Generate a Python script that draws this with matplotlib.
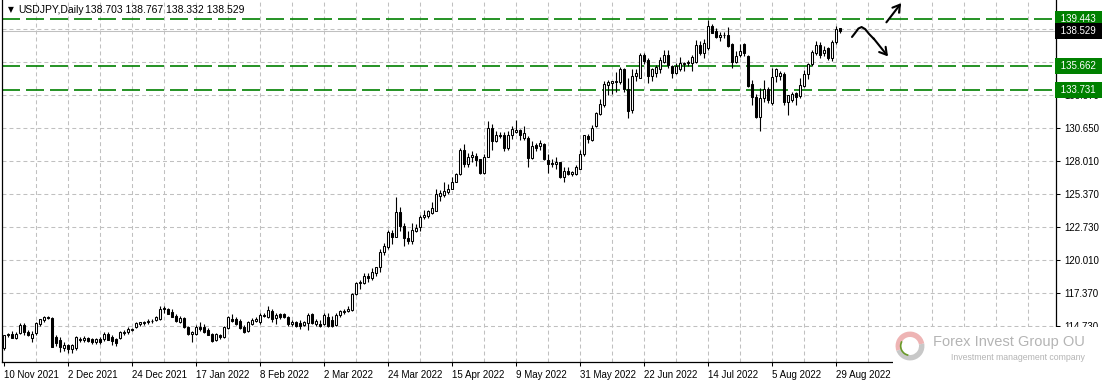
import numpy as np
import matplotlib
matplotlib.use("Agg")
import matplotlib.pyplot as plt
from matplotlib.patches import Rectangle, Wedge

plt.rcParams['font.family'] = ['Liberation Sans', 'DejaVu Sans']

# USDJPY daily bars, 10 Nov 2021 .. 30 Aug 2022 (weekdays)
opens = [
    112.90, 113.95, 114.05, 113.75, 114.15, 114.80, 114.25, 113.75, 114.15, 114.85,
    115.20, 115.40, 115.38, 113.85, 113.55, 112.95, 113.15, 112.85, 112.90, 113.55,
    113.60, 113.75, 113.65, 113.40, 113.65, 113.70, 114.05, 113.85, 113.65, 113.75,
    114.15, 114.20, 114.40, 114.65, 114.90, 114.95, 115.00, 115.15, 115.20, 115.30,
    116.20, 116.10, 115.85, 115.55, 115.05, 115.35, 114.65, 114.10, 114.10, 114.65,
    114.65, 114.40, 114.10, 113.60, 114.00, 113.80, 114.55, 115.30, 115.25, 115.15,
    114.65, 114.35, 114.90, 115.10, 115.00, 115.60, 115.40, 115.90, 115.35, 115.65,
    115.70, 115.45, 114.90, 115.05, 114.95, 114.80, 114.95, 115.65, 114.85, 114.90,
    114.85, 115.40, 115.20, 114.80, 115.60, 115.85, 115.95, 116.00, 117.30, 118.15,
    118.15, 118.75, 118.55, 118.95, 119.45, 120.70, 121.10, 122.25, 121.90, 123.90,
    122.80, 121.80, 121.55, 122.40, 122.70, 123.50, 123.60, 123.80, 124.00, 125.20,
    125.25, 125.50, 125.80, 126.35, 126.95, 128.90, 127.80, 128.30, 128.40, 128.15,
    127.05, 128.35, 130.70, 129.65, 130.10, 130.10, 129.05, 130.10, 130.35, 130.55,
    129.85, 129.85, 128.25, 129.30, 129.20, 129.40, 128.10, 127.85, 127.75, 127.90,
    126.75, 127.20, 127.00, 126.95, 127.40, 128.55, 130.00, 129.70, 130.80, 131.80,
    132.50, 134.15, 134.30, 134.35, 134.35, 135.40, 133.80, 132.10, 134.90, 134.75,
    136.60, 136.20, 134.85, 135.10, 135.40, 136.00, 136.55, 135.70, 135.10, 135.40,
    135.85, 135.90, 135.90, 136.00, 137.40, 136.75, 137.10, 138.90, 138.50, 138.00,
    138.15, 138.15, 137.45, 136.00, 136.60, 137.45, 136.50, 134.20, 133.15, 131.60,
    133.10, 133.80, 132.70, 134.90, 134.90, 135.00, 132.80, 132.90, 133.50, 133.25,
    134.05, 135.00, 135.80, 136.75, 137.40, 136.70, 137.10, 136.35, 137.60, 138.703,
]
highs = [
    114.00, 114.15, 114.30, 114.20, 114.95, 114.95, 114.40, 114.30, 115.05, 115.30,
    115.50, 115.50, 115.45, 113.95, 113.80, 113.40, 113.30, 113.25, 113.90, 113.80,
    113.90, 113.85, 113.75, 113.75, 113.80, 114.25, 114.25, 113.95, 113.75, 114.30,
    114.40, 114.60, 114.55, 115.00, 115.05, 115.15, 115.25, 115.25, 115.55, 116.35,
    116.35, 116.15, 116.05, 115.70, 115.50, 115.45, 114.75, 114.35, 114.80, 115.05,
    114.85, 114.55, 114.15, 114.15, 114.10, 114.70, 115.55, 115.65, 115.40, 115.25,
    114.80, 115.10, 115.35, 115.45, 115.75, 115.80, 116.35, 116.10, 115.75, 115.80,
    115.80, 115.55, 115.20, 115.15, 115.20, 115.10, 115.75, 115.80, 115.25, 115.20,
    115.75, 115.80, 115.50, 115.75, 116.00, 116.10, 116.30, 117.35, 118.30, 118.45,
    119.00, 118.95, 119.40, 119.50, 120.95, 121.40, 122.45, 122.45, 125.10, 124.30,
    123.00, 122.40, 123.00, 122.95, 123.70, 124.05, 124.05, 124.70, 125.75, 125.70,
    126.30, 126.20, 126.70, 127.05, 129.10, 129.40, 128.70, 128.85, 128.70, 128.20,
    128.60, 131.25, 131.00, 130.40, 130.35, 130.35, 130.45, 130.80, 131.35, 130.60,
    130.80, 130.00, 129.65, 129.45, 129.70, 129.50, 128.60, 128.20, 128.30, 127.95,
    127.50, 127.50, 127.20, 127.70, 128.90, 130.15, 130.20, 130.95, 132.00, 133.00,
    134.50, 134.55, 134.45, 135.20, 135.60, 135.55, 134.70, 135.40, 135.40, 136.70,
    136.70, 136.30, 135.50, 135.75, 136.40, 137.00, 137.00, 135.75, 135.90, 136.40,
    136.00, 136.15, 136.55, 137.75, 137.70, 137.85, 139.40, 139.10, 138.75, 138.40,
    138.40, 138.85, 137.55, 136.90, 137.45, 137.50, 136.60, 134.55, 133.40, 133.90,
    134.55, 134.00, 135.50, 135.55, 135.30, 135.20, 133.35, 133.55, 133.60, 134.70,
    135.35, 135.90, 137.00, 137.70, 137.65, 137.30, 137.25, 137.75, 138.90, 138.767,
]
lows = [
    112.75, 113.80, 113.75, 113.70, 114.05, 114.00, 113.90, 113.45, 114.00, 114.70,
    115.05, 115.25, 113.05, 113.10, 112.60, 112.70, 112.55, 112.55, 112.80, 113.40,
    113.45, 113.40, 113.25, 113.30, 113.30, 113.50, 113.55, 113.20, 113.10, 113.65,
    114.00, 114.10, 114.30, 114.55, 114.75, 114.80, 114.90, 114.95, 115.10, 115.20,
    115.80, 115.65, 115.40, 115.00, 114.95, 114.55, 114.00, 113.45, 114.00, 114.30,
    114.15, 113.95, 113.45, 113.50, 113.70, 113.75, 114.45, 115.05, 114.80, 114.45,
    114.15, 114.20, 114.80, 115.00, 114.90, 115.45, 115.35, 115.05, 114.90, 115.30,
    115.35, 114.75, 114.75, 114.60, 114.50, 114.70, 114.40, 114.85, 114.70, 114.65,
    114.80, 114.60, 114.65, 114.75, 115.40, 115.70, 115.85, 115.95, 117.20, 117.70,
    118.10, 118.25, 118.40, 118.75, 119.10, 120.40, 120.95, 121.35, 121.85, 122.40,
    121.20, 121.30, 121.30, 122.30, 122.40, 123.35, 123.45, 123.75, 123.95, 124.80,
    125.10, 125.35, 125.75, 126.30, 126.90, 127.50, 127.55, 127.90, 127.60, 126.95,
    127.00, 128.30, 128.90, 129.55, 129.90, 128.80, 128.90, 129.80, 130.25, 129.75,
    129.70, 127.50, 128.20, 128.80, 128.90, 128.10, 127.05, 127.50, 127.40, 126.65,
    126.35, 126.90, 126.80, 126.90, 127.35, 128.45, 129.50, 129.60, 130.75, 131.70,
    132.40, 133.30, 133.40, 133.60, 134.20, 133.55, 131.50, 131.90, 134.50, 134.70,
    135.80, 134.30, 134.50, 134.80, 135.10, 135.90, 135.50, 134.75, 135.00, 135.25,
    135.25, 135.65, 135.30, 135.95, 136.55, 136.35, 137.00, 138.30, 137.90, 137.70,
    137.90, 137.20, 135.55, 135.95, 136.40, 136.50, 134.00, 132.50, 131.50, 130.40,
    132.80, 132.70, 132.50, 134.35, 134.55, 132.50, 131.75, 132.75, 132.55, 133.10,
    134.00, 134.65, 135.70, 136.60, 136.30, 136.50, 136.20, 136.10, 137.45, 138.332,
]
closes = [
    113.95, 114.05, 113.75, 114.10, 114.80, 114.20, 114.00, 114.10, 114.95, 115.25,
    115.45, 115.35, 113.05, 113.35, 113.05, 113.15, 112.85, 113.20, 113.85, 113.65,
    113.75, 113.50, 113.40, 113.65, 113.40, 114.05, 113.60, 113.50, 113.35, 114.20,
    114.25, 114.50, 114.50, 114.95, 115.00, 115.05, 115.15, 115.10, 115.45, 116.10,
    116.05, 115.70, 115.45, 115.15, 115.35, 114.65, 114.10, 114.25, 114.60, 114.45,
    114.25, 114.00, 113.50, 114.05, 113.80, 114.65, 115.45, 115.15, 114.90, 114.55,
    114.25, 115.00, 115.20, 115.30, 115.60, 115.55, 116.00, 115.25, 115.60, 115.40,
    115.40, 114.90, 115.05, 114.70, 114.70, 115.00, 115.60, 114.95, 115.10, 114.70,
    115.60, 114.70, 114.70, 115.60, 115.90, 115.95, 116.10, 117.30, 118.15, 118.30,
    118.75, 118.55, 119.05, 119.45, 120.70, 121.15, 122.30, 121.85, 123.90, 122.80,
    121.80, 121.60, 122.45, 122.60, 123.50, 123.70, 124.00, 124.20, 125.35, 125.40,
    125.60, 125.80, 126.35, 126.95, 128.90, 127.80, 128.35, 128.50, 128.10, 127.05,
    128.35, 130.70, 129.65, 130.10, 130.00, 129.05, 130.10, 130.60, 130.55, 130.15,
    130.30, 128.25, 129.20, 129.10, 129.45, 128.15, 127.75, 127.75, 127.90, 126.75,
    127.20, 127.00, 127.10, 127.55, 128.60, 130.10, 129.80, 130.70, 131.85, 132.60,
    134.20, 134.35, 134.45, 134.50, 135.40, 133.80, 132.05, 134.90, 135.10, 136.60,
    136.10, 134.85, 135.40, 135.60, 136.15, 136.55, 135.75, 135.10, 135.70, 135.90,
    135.95, 136.00, 136.40, 137.35, 136.75, 137.50, 138.90, 138.35, 138.00, 138.15,
    138.20, 137.30, 136.00, 136.50, 136.90, 136.75, 134.05, 133.15, 131.55, 133.10,
    133.80, 132.90, 134.80, 135.40, 135.10, 132.80, 133.30, 133.40, 133.20, 134.15,
    135.00, 135.80, 136.80, 137.40, 136.60, 137.00, 136.30, 137.60, 138.65, 138.529,
]

date_labels = ["10 Nov 2021", "2 Dec 2021", "24 Dec 2021", "17 Jan 2022", "8 Feb 2022",
               "2 Mar 2022", "24 Mar 2022", "15 Apr 2022", "9 May 2022", "31 May 2022",
               "22 Jun 2022", "14 Jul 2022", "5 Aug 2022", "29 Aug 2022"]
label_step = 16
grid_step = 8

price_ticks = [114.730, 117.370, 120.010, 122.730, 125.370, 128.010,
               130.650, 133.370, 136.010, 138.650]
levels = [139.443, 135.662, 133.731]
last_price = 138.529
header = "138.703 138.767 138.332 138.529"

W, H = 1102, 383
fig = plt.figure(figsize=(W / 100, H / 100), dpi=100)
ax = fig.add_axes([2 / W, (H - 362) / H, (1056 - 2) / W, 362 / H])

o = np.array(opens)
c = np.array(closes)
x = np.arange(len(o))
up = c >= o
body_lo = np.minimum(o, c)
body_h = np.maximum(np.abs(c - o), 0.03)

ax.vlines(x, lows, highs, color='black', lw=0.8, zorder=3)
ax.bar(x[up], body_h[up], bottom=body_lo[up], width=0.5, facecolor='white',
       edgecolor='black', linewidth=0.75, zorder=4)
ax.bar(x[~up], body_h[~up], bottom=body_lo[~up], width=0.5, facecolor='black',
       edgecolor='black', linewidth=0.75, zorder=4)

ax.set_xlim(-0.5, 263)
ax.set_ylim(111.81, 141.0)

# grid
for gx in range(grid_step, 263, grid_step):
    ax.axvline(gx, color='#c0c0c0', lw=0.75, dashes=(3.8, 2.9), zorder=1)
for gy in price_ticks:
    ax.axhline(gy, color='#c0c0c0', lw=0.75, dashes=(3.8, 2.9), zorder=1)

ax.axhline(last_price, color='#c0c0c0', lw=0.75, zorder=1)
for lv in levels:
    ax.axhline(lv, color='#008000', lw=1.2, dashes=(10.8, 3.6), zorder=2)

ax.set_xticks(np.arange(len(date_labels)) * label_step)
ax.set_xticklabels(date_labels)
for lbl in ax.get_xticklabels():
    lbl.set_ha('left')
ax.set_yticks(price_ticks)
ax.set_yticklabels([f"{p:.3f}" for p in price_ticks])
ax.yaxis.tick_right()
ax.tick_params(axis='x', length=3, width=0.75, pad=3, labelsize=7)
ax.tick_params(axis='y', length=3, width=0.75, pad=3, labelsize=7)
ax.spines['top'].set_visible(False)
for s in ['left', 'right', 'bottom']:
    ax.spines[s].set_linewidth(0.9)

# price boxes on the right scale
ytr = ax.get_yaxis_transform()
for lv in levels:
    ax.text(1.0022, lv, f" {lv:.3f} ", transform=ytr, ha='left', va='center', fontsize=7,
            color='white', clip_on=False, zorder=6,
            bbox=dict(boxstyle='square,pad=0.3', facecolor='#008000', edgecolor='none'))
ax.text(1.0022, last_price, f" {last_price:.3f} ", transform=ytr, ha='left', va='center',
        fontsize=7, color='white', clip_on=False, zorder=6,
        bbox=dict(boxstyle='square,pad=0.3', facecolor='black', edgecolor='none'))

# header
ax.text(6 / 1054, 1 - 10 / 362, "\u25bc", transform=ax.transAxes, fontsize=5.5,
        va='center', ha='left', family=['DejaVu Sans'])
ax.text(16 / 1054, 1 - 10 / 362, "USDJPY,Daily", transform=ax.transAxes, fontsize=7.5,
        va='center', ha='left')
ax.text(83 / 1054, 1 - 10 / 362, header, transform=ax.transAxes, fontsize=7.5,
        va='center', ha='left')

# hand-drawn scenario arrows
cx = [212, 212.8, 213.6, 214.4, 215.3, 216.3, 217.5]
cy = [138.02, 138.35, 138.7, 138.82, 138.65, 138.25, 137.85]
ax.plot(cx, cy, color='black', lw=1.5, clip_on=False, zorder=5, solid_capstyle='round')
ax.annotate('', xy=(221.0, 136.45), xytext=(217.4, 137.9),
            arrowprops=dict(arrowstyle='->,head_length=0.5,head_width=0.3', lw=1.5,
                            color='black', shrinkA=0, shrinkB=0), zorder=5)
ax.annotate('', xy=(224.3, 140.75), xytext=(220.6, 139.2),
            arrowprops=dict(arrowstyle='->,head_length=0.5,head_width=0.3', lw=1.5,
                            color='black', shrinkA=0, shrinkB=0), zorder=5)

# watermark logo in the bottom-right corner
fig.add_artist(Rectangle((893 / W, (H - 367) / H), (W - 893) / W, 40 / H,
                         transform=fig.transFigure, facecolor='white',
                         edgecolor='none', zorder=10))
icon = fig.add_axes([(910 - 17) / W, (H - 346 - 17) / H, 34 / W, 34 / H])
icon.set_zorder(11)
icon.set_xlim(-1, 1)
icon.set_ylim(-1, 1)
icon.set_aspect('equal')
icon.axis('off')
icon.add_patch(Wedge((0, 0), 0.85, 10, 200, width=0.32, facecolor='#eeb4b4', edgecolor='none'))
icon.add_patch(Wedge((0, 0), 0.85, 200, 370, width=0.32, facecolor='#c8c8c8', edgecolor='none'))
icon.add_patch(Wedge((0, 0), 0.6, 150, 260, width=0.1, facecolor='#6a9a2a', edgecolor='none'))
fig.text(933 / W, 1 - 342 / H, "Forex Invest Group OU", fontsize=10.5, color='#b4b4b4',
         va='center', ha='left', zorder=12)
fig.text(951 / W, 1 - 357 / H, "Investment management company", fontsize=6.3, color='#b4b4b4',
         va='center', ha='left', zorder=12)

fig.savefig('out.png', dpi=100)
